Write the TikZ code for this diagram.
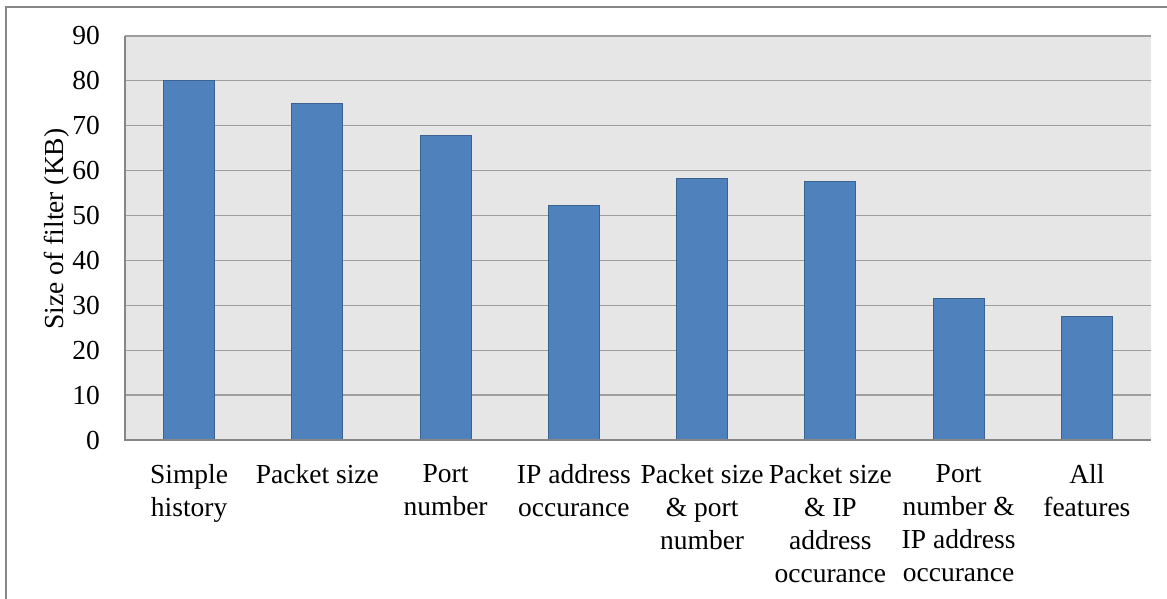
\documentclass[tikz,border=0pt]{standalone}
\usepackage{fontspec}
\setmainfont{Liberation Serif}
\newfontfamily\tnrfont{Liberation Serif}
\definecolor{framegray}{HTML}{878787}
\definecolor{plotbg}{HTML}{E6E6E6}
\definecolor{gridgray}{HTML}{9E9E9E}
\definecolor{axisgray}{HTML}{868686}
\definecolor{barblue}{HTML}{4F81BD}
\definecolor{baredge}{HTML}{3A6392}
\tikzset{
  bar/.style={fill=barblue, draw=baredge, line width=1pt},
  gridline/.style={draw=gridgray, line width=1.3pt},
  axisline/.style={draw=axisgray, line width=1.3pt},
  ticklabel/.style={anchor=east, inner sep=0pt, font=\tnrfont\fontsize{27.5}{33}\selectfont},
  catlabel/.style={anchor=base, inner sep=0pt, align=center, font=\tnrfont\fontsize{27.5}{33}\selectfont},
}
\begin{document}
\begin{tikzpicture}[x=1pt,y=-1pt]
\useasboundingbox (0,0) rectangle (1167,599);
% outer frame
\draw[framegray, line width=2pt] (6,605) -- (6,7) -- (1175,7);
% plot area
\fill[plotbg] (125,36) rectangle (1151,440);
\foreach \k in {1,...,9} {
  \draw[gridline] (125,{440 - 44.9*\k}) -- (1151,{440 - 44.9*\k});
}
\foreach \k in {0,...,9} {
  \node[ticklabel] (t\k) at (100,{440 - 44.9*\k}) {\the\numexpr\k*10\relax};
}
% bars
\foreach \v [count=\i] in {80,75,67.8,52.2,58.3,57.5,31.5,27.4} {
  \draw[bar] ({125 + (\i-0.5)*128.25 - 25.5},440) rectangle ({125 + (\i-0.5)*128.25 + 25.5},{440 - 4.49*\v});
}
% axes
\draw[axisline] (125,36) -- (125,440) -- (1151,440);
% category labels (anchor=base puts first-line baseline at the point)
\foreach \lab [count=\i] in {{Simple\\history},{Packet size},{Port\\number},{IP address\\occurance},{Packet size\\\& port\\number},{Packet size\\\& IP\\address\\occurance},{Port\\number \&\\IP address\\occurance},{All\\features}} {
  \node[catlabel, anchor=north] (c\i) at ({125 + (\i-0.5)*128.25},464) {\lab};
}
% axis title
\node[rotate=90, anchor=base, inner sep=0pt, font=\tnrfont\fontsize{27.5}{33}\selectfont] (ytitle) at (63,229) {Size of filter (KB)};
\end{tikzpicture}
\end{document}
